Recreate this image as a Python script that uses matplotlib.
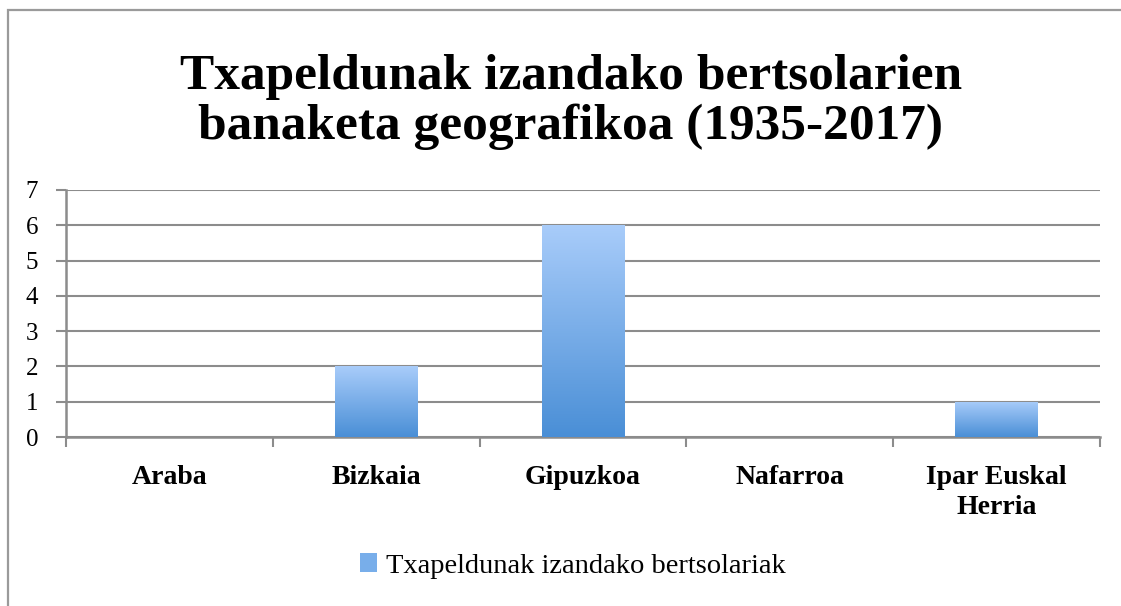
import matplotlib
matplotlib.use('Agg')
import matplotlib.pyplot as plt
import numpy as np
from matplotlib.patches import Rectangle, Patch

categories = ['Araba', 'Bizkaia', 'Gipuzkoa', 'Nafarroa', 'Ipar Euskal\nHerria']
values = [0, 2, 6, 0, 1]
series_name = 'Txapeldunak izandako bertsolariak'
title = 'Txapeldunak izandako bertsolarien\nbanaketa geografikoa (1935-2017)'

plt.rcParams['font.family'] = ['Liberation Serif', 'DejaVu Serif']
grey = '#8c8c8c'
top_col = np.array([0.66, 0.80, 0.98])
bot_col = np.array([0.29, 0.56, 0.84])

fig = plt.figure(figsize=(11.21, 6.06), dpi=100)
# outer chart frame
fig.patches.append(Rectangle((8 / 1121, -0.05), 1.1, 1 - 10 / 606 + 0.05,
                             transform=fig.transFigure, fill=False,
                             edgecolor='#9a9a9a', linewidth=1.6))

ax = fig.add_axes([66 / 1121, 1 - 437 / 606, (1100 - 66) / 1121, (437 - 190) / 606])

x = np.arange(len(categories)) + 0.5
bars = ax.bar(x, values, width=0.4, color='none', edgecolor='none', zorder=3)

# vertical gradient fill clipped to each bar
grad = np.linspace(0, 1, 100)[:, None, None]
img = top_col * (1 - grad) + bot_col * grad
for b, v in zip(bars, values):
    if v <= 0:
        continue
    im = ax.imshow(img, extent=(b.get_x(), b.get_x() + b.get_width(), 0, v),
                   origin='upper', aspect='auto', zorder=3)
    im.set_clip_path(b)

ax.set_xlim(0, len(categories))
ax.set_ylim(0, 7)
ax.set_yticks(range(0, 8))
ax.yaxis.grid(True, color=grey, linewidth=1.5, zorder=0)
ax.set_axisbelow(True)

for s in ['top', 'right']:
    ax.spines[s].set_visible(False)
for s in ['left', 'bottom']:
    ax.spines[s].set_color(grey)
    ax.spines[s].set_linewidth(1.8)

ax.tick_params(axis='y', length=7, width=1.5, color=grey, labelsize=18, pad=13)
ax.set_xticks(np.arange(len(categories) + 1))
ax.set_xticklabels([])
ax.tick_params(axis='x', which='major', length=7, width=1.5, color=grey)
ax.set_xticks(x, minor=True)
ax.set_xticklabels(categories, minor=True, fontsize=20, fontweight='bold', linespacing=1.3)
ax.tick_params(axis='x', which='minor', length=0, pad=20)

fig.text(571 / 1121, 1 - 102 / 606, title, ha='center', va='center',
         fontsize=37, fontweight='bold', linespacing=1.12)

handle = Patch(facecolor='#78aeea', edgecolor='none')
fig.legend([handle], [series_name], loc='center', bbox_to_anchor=(573 / 1121, 1 - 566 / 606),
           frameon=False, fontsize=20.5, handlelength=0.6, handleheight=0.6, handletextpad=0.3)

fig.savefig('out.png', dpi=100)
